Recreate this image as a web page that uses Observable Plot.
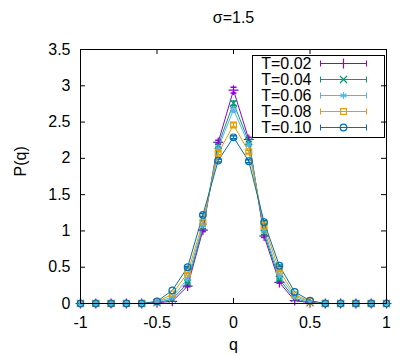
<!DOCTYPE html>
<html>
<head>
<meta charset="utf-8">
<script src="https://cdn.jsdelivr.net/npm/d3@7"></script>
<script src="https://cdn.jsdelivr.net/npm/@observablehq/plot@0.6"></script>
<style>
  html, body { margin: 0; padding: 0; background: #fff; }
  #chart svg { display: block; }
</style>
</head>
<body>
<div id="chart"></div>
<script>
// ---- data ----
const title = "σ=1.5";
const xLabel = "q";
const yLabel = "P(q)";
const xTicks = [-1, -0.5, 0, 0.5, 1];
const yTicks = [0, 0.5, 1, 1.5, 2, 2.5, 3, 3.5];
const qValues = [-1, -0.9, -0.8, -0.7, -0.6, -0.5, -0.4, -0.3, -0.2, -0.1, 0,
                 0.1, 0.2, 0.3, 0.4, 0.5, 0.6, 0.7, 0.8, 0.9, 1];
const seriesNames = ["T=0.02", "T=0.04", "T=0.06", "T=0.08", "T=0.10"];
const pT002 = [0, 0, 0, 0, 0, 0.01, 0.03, 0.24, 1.01, 2.22, 2.94, 2.26, 0.93, 0.29, 0.04, 0.01, 0, 0, 0, 0, 0];
const pT004 = [0, 0, 0, 0, 0, 0.01, 0.06, 0.28, 1.05, 2.18, 2.76, 2.23, 0.97, 0.33, 0.07, 0.01, 0, 0, 0, 0, 0];
const pT006 = [0, 0, 0, 0, 0, 0.02, 0.09, 0.34, 1.08, 2.14, 2.67, 2.19, 1.01, 0.38, 0.10, 0.02, 0, 0, 0, 0, 0];
const pT008 = [0, 0, 0, 0, 0, 0.02, 0.13, 0.42, 1.12, 2.07, 2.46, 2.09, 1.07, 0.45, 0.12, 0.03, 0, 0, 0, 0, 0];
const pT010 = [0, 0, 0, 0, 0, 0.03, 0.18, 0.50, 1.22, 1.97, 2.29, 1.96, 1.12, 0.52, 0.16, 0.04, 0, 0, 0, 0, 0];
const eT002 = [0, 0, 0, 0, 0, 0, 0, 0.01, 0.02, 0.03, 0.04, 0.03, 0.02, 0.01, 0, 0, 0, 0, 0, 0, 0];
const eT004 = [0, 0, 0, 0, 0, 0, 0, 0.01, 0.02, 0.03, 0.03, 0.03, 0.02, 0.01, 0, 0, 0, 0, 0, 0, 0];
const eT006 = [0, 0, 0, 0, 0, 0, 0, 0.01, 0.02, 0.02, 0.03, 0.02, 0.02, 0.01, 0, 0, 0, 0, 0, 0, 0];
const eT008 = [0, 0, 0, 0, 0, 0, 0, 0.01, 0.02, 0.02, 0.03, 0.02, 0.02, 0.01, 0, 0, 0, 0, 0, 0, 0];
const eT010 = [0, 0, 0, 0, 0, 0, 0, 0.01, 0.02, 0.02, 0.02, 0.02, 0.02, 0.01, 0, 0, 0, 0, 0, 0, 0];
const seriesValues = [pT002, pT004, pT006, pT008, pT010];
const seriesErrors = [eT002, eT004, eT006, eT008, eT010];
const seriesColors = ["#9400d3", "#009e73", "#56b4e9", "#e69f00", "#0072b2"];
const seriesSymbols = ["plus", "times", "asterisk", "square", "circle"];

// ---- tidy table ----
const rows = [];
seriesNames.forEach((name, s) => {
  qValues.forEach((q, i) => {
    rows.push({T: name, q, p: seriesValues[s][i], err: seriesErrors[s][i]});
  });
});
const errRows = rows.filter(d => d.err > 0);

// ---- layout ----
const W = 415, H = 356;
const mL = 80, mR = 29, mT = 49, mB = 53;
const innerW = W - mL - mR, innerH = H - mT - mB;
const tickLen = 5;
const font = "'Liberation Sans', Arial, Helvetica, sans-serif";
const fs = 16;

// horizontal cap symbol for error bars
const capSymbol = {draw(ctx, size) { const r = 3; ctx.moveTo(-r, 0); ctx.lineTo(r, 0); }};
// legend sample: line with error-bar ends
const sampleSymbol = {draw(ctx, size) {
  const h = 23, c = 3;
  ctx.moveTo(-h, 0); ctx.lineTo(h, 0);
  ctx.moveTo(-h, -c); ctx.lineTo(-h, c);
  ctx.moveTo(h, -c); ctx.lineTo(h, c);
}};

const legendMarks = [];
seriesNames.forEach((name, i) => {
  const dy = 14 + i * 16;
  legendMarks.push(
    Plot.text([name], {frameAnchor: "top-right", dx: -75, dy, text: d => d, textAnchor: "end",
      lineAnchor: "middle", fontSize: fs, fill: "black"}),
    Plot.dot([name], {frameAnchor: "top-right", dx: -43, dy, symbol: () => sampleSymbol, r: 5,
      stroke: seriesColors[i], strokeWidth: 1, fill: "none"}),
    Plot.dot([name], {frameAnchor: "top-right", dx: -43, dy, symbol: () => seriesSymbols[i],
      r: 3.3, stroke: seriesColors[i], strokeWidth: 1.2, fill: "none"})
  );
});

const chart = Plot.plot({
  width: W, height: H,
  marginLeft: mL, marginRight: mR, marginTop: mT, marginBottom: mB,
  style: {fontFamily: font, fontSize: fs + "px", color: "black", background: "white"},
  x: {domain: [-1, 1]},
  y: {domain: [0, 3.5]},
  color: {domain: seriesNames, range: seriesColors},
  symbol: {domain: seriesNames, range: seriesSymbols},
  marks: [
    Plot.axisX({ticks: xTicks, tickSize: 0, tickPadding: 13, tickFormat: d => String(d), fontSize: fs, label: null}),
    Plot.axisY({ticks: yTicks, tickSize: 0, tickPadding: 10, tickFormat: d => String(d), fontSize: fs, label: null}),
    // inward mirror ticks
    Plot.tickX(xTicks, {x: d => d, insetTop: innerH - tickLen, stroke: "black"}),
    Plot.tickX(xTicks, {x: d => d, insetBottom: innerH - tickLen, stroke: "black"}),
    Plot.tickY(yTicks, {y: d => d, insetRight: innerW - tickLen, stroke: "black"}),
    Plot.tickY(yTicks, {y: d => d, insetLeft: innerW - tickLen, stroke: "black"}),
    // series
    Plot.ruleX(errRows, {x: "q", y1: d => d.p - d.err, y2: d => d.p + d.err, stroke: "T", strokeWidth: 1}),
    Plot.dot(errRows, {x: "q", y: d => d.p - d.err, symbol: () => capSymbol, stroke: "T", r: 3}),
    Plot.dot(errRows, {x: "q", y: d => d.p + d.err, symbol: () => capSymbol, stroke: "T", r: 3}),
    Plot.line(rows, {x: "q", y: "p", z: "T", stroke: "T", strokeWidth: 1}),
    Plot.dot(rows, {x: "q", y: "p", stroke: "T", symbol: "T", r: 3.3, strokeWidth: 1.2, fill: "none"}),
    // frame
    Plot.frame({stroke: "black", strokeWidth: 1}),
    // legend box
    Plot.frame({stroke: "black", strokeWidth: 1, insetLeft: 172, insetRight: 2, insetTop: 6, insetBottom: 166}),
    ...legendMarks,
    // titles
    Plot.text([title], {frameAnchor: "top", dy: -32, text: d => d, lineAnchor: "middle", fontSize: fs, fill: "black"}),
    Plot.text([xLabel], {frameAnchor: "bottom", dy: 41, text: d => d, lineAnchor: "middle", fontSize: fs, fill: "black"}),
    Plot.text([yLabel], {frameAnchor: "left", dx: -60, text: d => d, rotate: -90, lineAnchor: "middle", fontSize: fs, fill: "black"})
  ]
});
document.getElementById("chart").appendChild(chart);
</script>
</body>
</html>
